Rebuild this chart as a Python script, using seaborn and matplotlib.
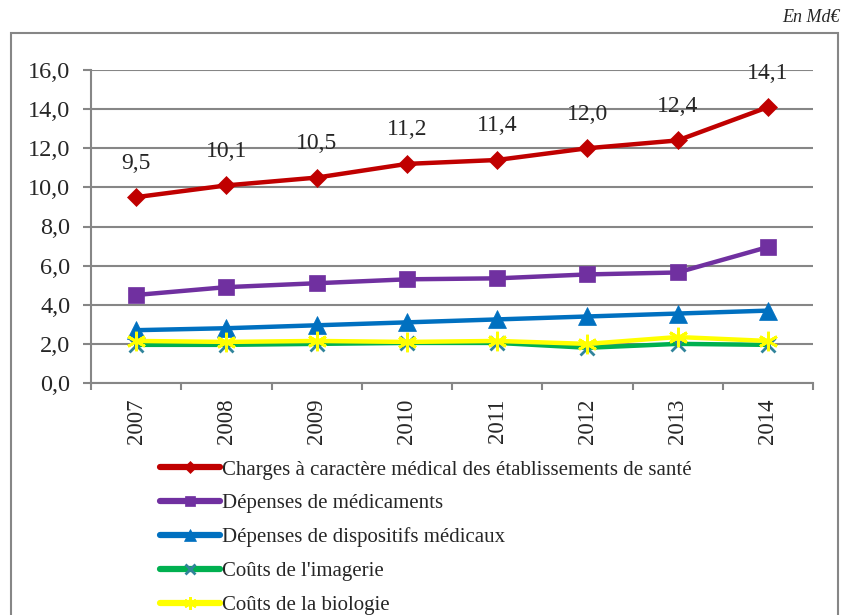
import matplotlib
matplotlib.use("Agg")
import matplotlib.pyplot as plt
import seaborn as sns
import pandas as pd
from matplotlib.patches import Rectangle
from matplotlib.ticker import FixedLocator

years = ["2007", "2008", "2009", "2010", "2011", "2012", "2013", "2014"]
charges = [9.5, 10.1, 10.5, 11.2, 11.4, 12.0, 12.4, 14.1]
medicaments = [4.5, 4.9, 5.1, 5.3, 5.35, 5.55, 5.65, 6.95]
dispositifs = [2.7, 2.8, 2.95, 3.1, 3.25, 3.4, 3.55, 3.7]
imagerie = [1.95, 1.95, 2.0, 2.05, 2.05, 1.8, 2.0, 1.95]
biologie = [2.15, 2.1, 2.15, 2.1, 2.15, 2.0, 2.35, 2.15]

names = ["Charges à caractère médical des établissements de santé",
         "Dépenses de médicaments",
         "Dépenses de dispositifs médicaux",
         "Coûts de l'imagerie",
         "Coûts de la biologie"]
series = [charges, medicaments, dispositifs, imagerie, biologie]
colors = ["#C00000", "#7030A0", "#0070C0", "#00B050", "#FFFF00"]
markers = ["D", "s", "^", "x", (6, 2, 0)]
msizes = [9, 11, 13, 10, 14]
mecs = ["#C00000", "#7030A0", "#0070C0", "#31849B", "#FFFF00"]

sns.set_theme(style="white")
plt.rcParams["font.family"] = ["Liberation Serif", "DejaVu Serif"]

fig = plt.figure(figsize=(8.44, 6.15), dpi=100)
ax = fig.add_axes([91/844, 1-383/615, (813-91)/844, (383-70)/615])

xs = list(range(len(years)))
for name, vals, c, m, ms, mec in zip(names, series, colors, markers, msizes, mecs):
    df = pd.DataFrame({"x": xs, "y": vals})
    sns.lineplot(data=df, x="x", y="y", ax=ax, color=c, linewidth=3.2,
                 marker=m, markersize=ms, markeredgecolor=mec,
                 markeredgewidth=2 if m in ("x", (6, 2, 0)) else 0.5,
                 markerfacecolor=c, label=name)

for i, v in enumerate(charges):
    ax.annotate(f"{v:.1f}".replace(".", ","), (i, v), xytext=(0, 17),
                textcoords="offset points", ha="center", va="bottom", fontsize=17)

ax.set_xlim(-0.5, len(years) - 0.5)
ax.set_ylim(0, 16)
yt = [0, 2, 4, 6, 8, 10, 12, 14, 16]
ax.set_yticks(yt)
ax.set_yticklabels([f"{t:.1f}".replace(".", ",") for t in yt], fontsize=17.5)
ax.set_xticks(xs)
ax.set_xticklabels(years, rotation=90, fontsize=16.5)
ax.xaxis.set_minor_locator(FixedLocator([i - 0.5 for i in range(len(years) + 1)]))
ax.tick_params(axis="x", which="major", length=0, pad=11)
ax.tick_params(axis="x", which="minor", length=5, width=1.5, color="#868686", direction="out", bottom=True)
ax.tick_params(axis="y", length=6, width=1.5, color="#868686", direction="out", left=True, pad=9)
ax.set_xlabel("")
ax.set_ylabel("")
ax.grid(axis="y", color="#868686", linewidth=1.5)
ax.set_axisbelow(True)
for s in ["top", "right"]:
    ax.spines[s].set_visible(False)
ax.spines["left"].set_color("#868686")
ax.spines["left"].set_linewidth(1.5)
ax.spines["bottom"].set_color("#868686")
ax.spines["bottom"].set_linewidth(1.5)

leg = ax.legend(loc="upper left", bbox_to_anchor=(160/844, 1-460/615), bbox_transform=fig.transFigure,
                frameon=False, fontsize=15, handlelength=2.9, handletextpad=0.1,
                labelspacing=0.68, borderaxespad=0, borderpad=0, markerscale=0.65)
for ln in leg.get_lines():
    ln.set_linewidth(4.5)

fig.patches.append(Rectangle((11/844, -0.05), (838-11)/844, 1.05 - 33/615,
                             transform=fig.transFigure, fill=False,
                             edgecolor="#868686", linewidth=1.5, figure=fig))
fig.text(840/844, 1-18/615, "En Md€", ha="right", va="center", fontsize=13, style="italic")

fig.savefig("out.png", dpi=100)
